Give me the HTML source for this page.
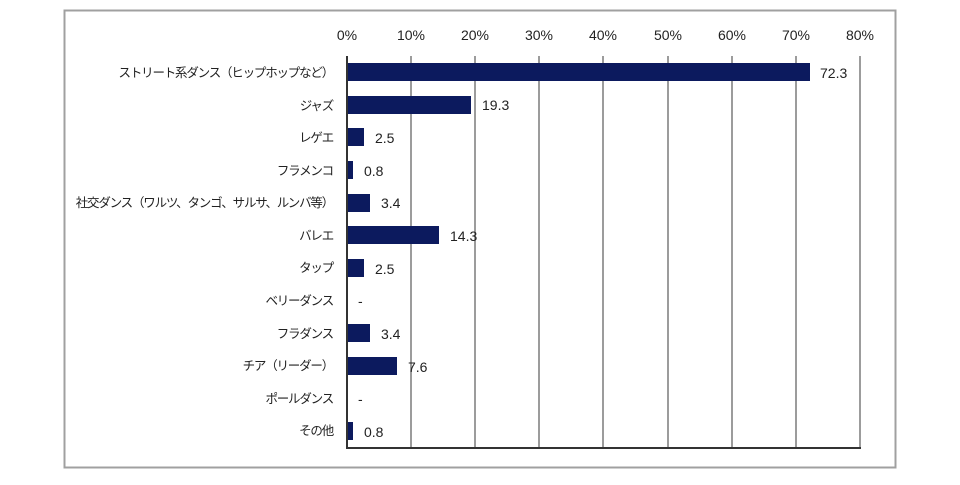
<!DOCTYPE html>
<html><head><meta charset="utf-8"><style>
body{margin:0;background:#fff;}
svg text{font-family:"Liberation Sans","Noto Sans CJK JP",sans-serif;fill:#222;}
</style></head><body>
<svg width="960" height="480" xmlns="http://www.w3.org/2000/svg">
<rect x="64.5" y="10.5" width="831" height="457" fill="#fff" stroke="#a0a0a0" stroke-width="2"/>
<g stroke="#666" stroke-width="1.3">
<line x1="411" y1="56" x2="411" y2="448"/><line x1="475" y1="56" x2="475" y2="448"/>
<line x1="539" y1="56" x2="539" y2="448"/><line x1="603" y1="56" x2="603" y2="448"/>
<line x1="668" y1="56" x2="668" y2="448"/><line x1="732" y1="56" x2="732" y2="448"/>
<line x1="796" y1="56" x2="796" y2="448"/><line x1="860" y1="56" x2="860" y2="448"/>
</g>
<g font-size="14" text-anchor="middle">
<text x="347" y="40">0%</text><text x="411" y="40">10%</text><text x="475" y="40">20%</text><text x="539" y="40">30%</text><text x="603" y="40">40%</text><text x="668" y="40">50%</text><text x="732" y="40">60%</text><text x="796" y="40">70%</text><text x="860" y="40">80%</text>
</g>
<g fill="#0c1a5e">
<rect x="348" y="63" width="462" height="18"/>
<rect x="348" y="96" width="123" height="18"/>
<rect x="348" y="128" width="16" height="18"/>
<rect x="348" y="161" width="5" height="18"/>
<rect x="348" y="194" width="22" height="18"/>
<rect x="348" y="226" width="91" height="18"/>
<rect x="348" y="259" width="16" height="18"/>
<rect x="348" y="324" width="22" height="18"/>
<rect x="348" y="357" width="49" height="18"/>
<rect x="348" y="422" width="5" height="18"/>
</g>
<line x1="347" y1="56" x2="347" y2="448" stroke="#333" stroke-width="2"/>
<line x1="346" y1="448" x2="861" y2="448" stroke="#333" stroke-width="2"/>
<g font-size="14">
<text x="820" y="78">72.3</text><text x="482" y="110">19.3</text><text x="375" y="143">2.5</text>
<text x="364" y="176">0.8</text><text x="381" y="208">3.4</text><text x="450" y="241">14.3</text>
<text x="375" y="274">2.5</text><text x="358" y="306">-</text><text x="381" y="339">3.4</text>
<text x="408" y="372">7.6</text><text x="358" y="404">-</text><text x="364" y="437">0.8</text>
</g>
<g font-size="12.5" text-anchor="end" letter-spacing="-1.2">
<text x="333" y="77">ストリート系ダンス（ヒップホップなど）</text>
<text x="333" y="110">ジャズ</text>
<text x="333" y="142">レゲエ</text>
<text x="333" y="175">フラメンコ</text>
<text x="333" y="207">社交ダンス（ワルツ、タンゴ、サルサ、ルンバ等）</text>
<text x="333" y="240">バレエ</text>
<text x="333" y="272">タップ</text>
<text x="333" y="305">ベリーダンス</text>
<text x="333" y="338">フラダンス</text>
<text x="333" y="370">チア（リーダー）</text>
<text x="333" y="403">ポールダンス</text>
<text x="333" y="435">その他</text>
</g>
</svg>
</body></html>
